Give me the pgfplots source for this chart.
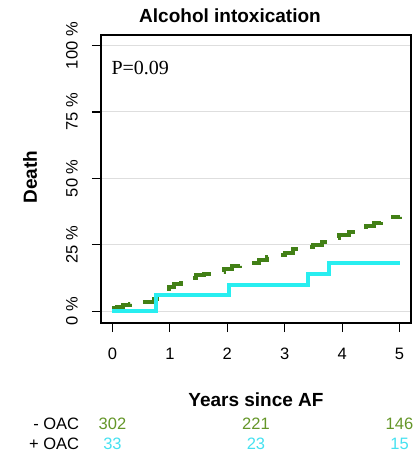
\documentclass[border=0pt]{standalone}
\usepackage{fontspec}
\setmainfont{Liberation Sans}
\newfontfamily\seriffont{Liberation Serif}
\usepackage{pgfplots}
\pgfplotsset{compat=1.18}

\definecolor{noOAC}{RGB}{66,128,22}
\definecolor{withOAC}{RGB}{40,238,240}
\definecolor{noOACtxt}{RGB}{100,150,40}
\definecolor{withOACtxt}{RGB}{70,225,240}
\definecolor{gridgray}{RGB}{222,222,222}

\newcommand{\tickfont}{\fontsize{16.5}{18}\selectfont}
\newcommand{\labfont}{\fontsize{19}{21}\selectfont\bfseries}

\begin{document}
\begin{tikzpicture}[x=1pt,y=1pt]
\useasboundingbox (0,0) rectangle (419,467);
\begin{axis}[
  at={(101pt,144pt)}, anchor=south west,
  scale only axis, width=310pt, height=288pt,
  xmin=-0.2, xmax=5.2, ymin=-4.5, ymax=104,
  axis line style={black, line width=1.1pt},
  xtick={0,1,2,3,4,5}, xticklabels={0,1,2,3,4,5},
  ytick={0,25,50,75,100},
  yticklabels={0 \%,25 \%,50 \%,75 \%,100 \%},
  xtick pos=lower, ytick pos=left,
  tick align=outside, major tick length=9pt,
  every tick/.style={black, line width=1.1pt},
  xticklabel style={font=\tickfont, anchor=center, yshift=-22pt},
  yticklabel style={font=\tickfont, xshift=-20pt, rotate=90, anchor=center},
  ymajorgrids, grid style={gridgray, line width=1pt},
  clip=false,
]
% cumulative death, patients without OAC (step curve)
\addplot[const plot, noOAC, line width=4pt, dash pattern=on 22pt off 15pt] coordinates {
 (0,1.0) (0.08,1.6) (0.18,2.3) (0.3,2.8) (0.5,3.5) (0.72,4.5) (0.78,5.8)
 (0.88,7.6) (0.98,9.2) (1.08,10.3) (1.2,11.4) (1.32,12.5) (1.45,13.4)
 (1.6,14.0) (1.8,14.6) (1.95,15.8) (2.08,16.8) (2.22,17.4) (2.38,18.0)
 (2.55,19.2) (2.7,20.4) (2.85,21.2) (3.0,22.0) (3.15,23.2) (3.3,24.2)
 (3.5,25.0) (3.65,26.2) (3.78,27.6) (3.95,28.5) (4.12,29.6) (4.28,30.8)
 (4.42,32.0) (4.55,33.2) (4.68,34.5) (4.8,35.3) (5.0,35.5)
};
% cumulative death, patients with OAC (step curve)
\addplot[const plot, withOAC, line width=4pt] coordinates {
 (0,0) (0.75,6.0) (2.03,9.8) (3.4,13.8) (3.78,18.0) (5.0,18.0)
};
% numbers at risk
\node[anchor=east, font=\tickfont] at (axis cs:-0.52,-42.6) {- OAC};
\node[anchor=east, font=\tickfont] at (axis cs:-0.52,-50.2) {+ OAC};
\node[font=\tickfont, text=noOACtxt] at (axis cs:0,-42.6) {302};
\node[font=\tickfont, text=noOACtxt] at (axis cs:2.5,-42.6) {221};
\node[font=\tickfont, text=noOACtxt] at (axis cs:5,-42.6) {146};
\node[font=\tickfont, text=withOACtxt] at (axis cs:0,-50.2) {33};
\node[font=\tickfont, text=withOACtxt] at (axis cs:2.5,-50.2) {23};
\node[font=\tickfont, text=withOACtxt] at (axis cs:5,-50.2) {15};
\end{axis}
% titles and labels
\node[font=\labfont] at (230,451) {Alcohol intoxication};
\node[font=\labfont, rotate=90] at (30,290) {Death};
\node[font=\labfont] at (256,67) {Years since AF};
\node[anchor=west, font={\seriffont\fontsize{20}{22}\selectfont}] at (108,399) {P=0.09};
\end{tikzpicture}
\end{document}
